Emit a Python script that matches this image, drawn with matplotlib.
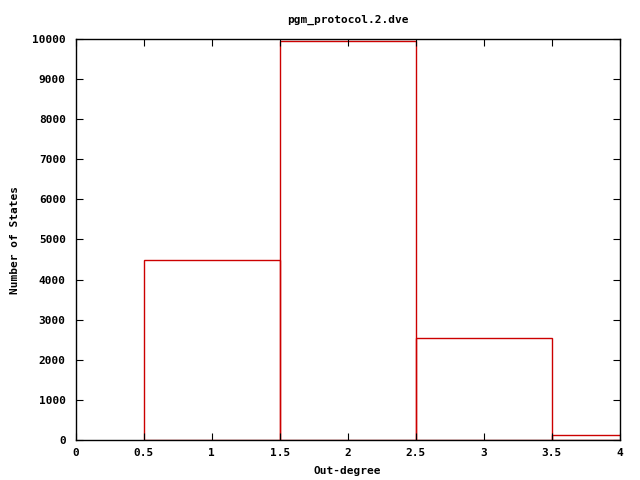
import matplotlib
matplotlib.use("Agg")
import matplotlib.pyplot as plt

degrees = [1, 2, 3, 4]
counts = [4500, 9950, 2540, 125]
xticks = [0, 0.5, 1, 1.5, 2, 2.5, 3, 3.5, 4]
xtick_labels = ["0", "0.5", "1", "1.5", "2", "2.5", "3", "3.5", "4"]
yticks = list(range(0, 10001, 1000))

plt.rcParams['font.family'] = ['DejaVu Sans Mono']
fig = plt.figure(figsize=(6.4, 4.8), dpi=100)
L, R, T, B = 75.5, 620, 39, 440
ax = fig.add_axes([L/640, (480-B)/480, (R-L)/640, (B-T)/480])
ax.bar(degrees, counts, width=1.0, fill=False, edgecolor='#cc0000', linewidth=1.0)
ax.set_xlim(0, 4)
ax.set_ylim(0, 10000)
ax.set_xticks(xticks)
ax.set_xticklabels(xtick_labels)
ax.set_yticks(yticks)
ax.tick_params(direction='in', top=True, right=True, labelsize=8, length=5, width=0.8)
ax.tick_params(axis='x', pad=6)
ax.tick_params(axis='y', pad=7)
for lab in ax.get_xticklabels() + ax.get_yticklabels():
    lab.set_fontweight('bold')
for s in ax.spines.values():
    s.set_linewidth(1.0)
ax.set_title("pgm_protocol.2.dve", fontsize=8, fontweight='bold', pad=12)
ax.set_xlabel("Out-degree", fontsize=8, fontweight='bold')
ax.set_ylabel("Number of States", fontsize=8, fontweight='bold')
ax.xaxis.set_label_coords(0.5, (B-466)/(B-T))
ax.yaxis.set_label_coords((20-L)/(R-L), 0.5)
fig.savefig("out.png", dpi=100)
